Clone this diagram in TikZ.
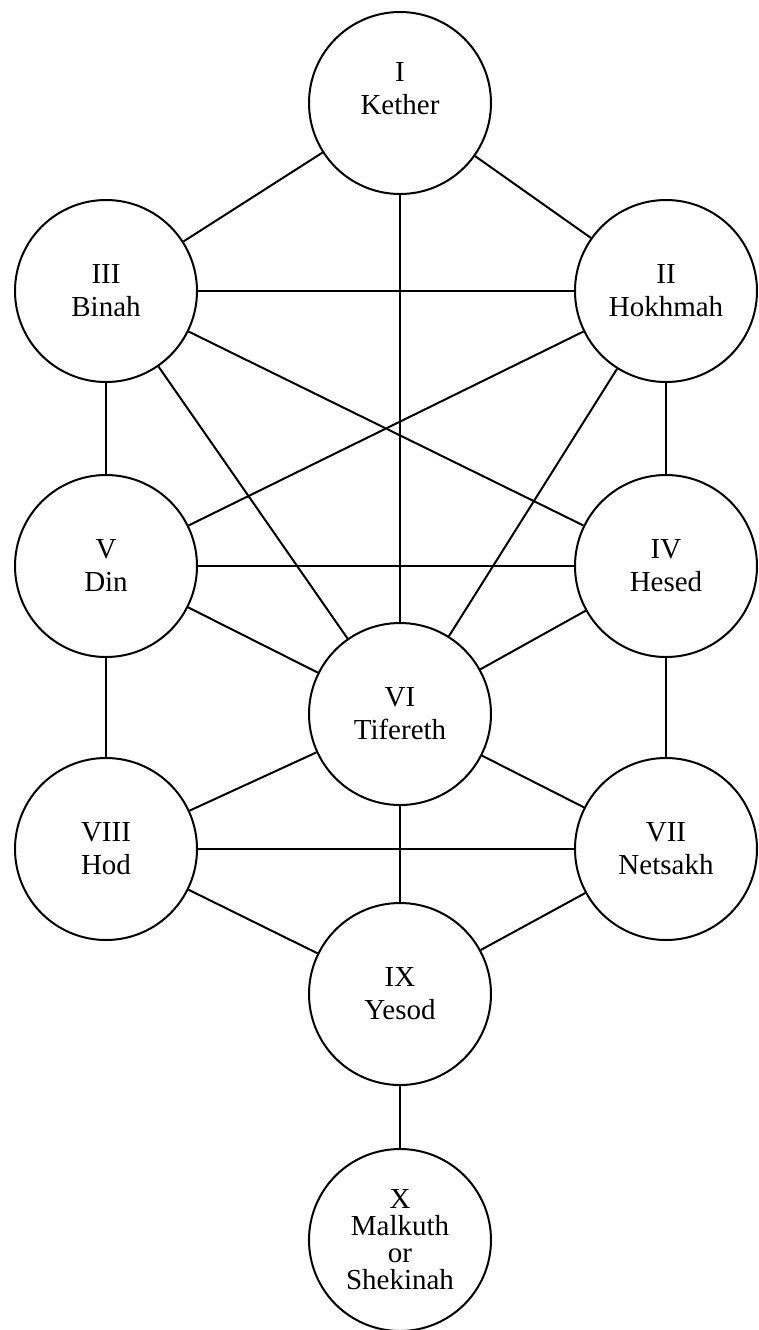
\documentclass[tikz,border=0pt]{standalone}
\usepackage{fontspec}
\setmainfont{Liberation Serif}
\begin{document}
\begin{tikzpicture}[x=0.5pt,y=-0.5pt,
  sefira/.style={circle,draw,line width=1pt,minimum size=91pt,inner sep=0pt,align=center,
    font=\fontsize{14.5}{16.5}\selectfont},
  lbl/.style={align=center,inner sep=0pt,font=\fontsize{14.5}{16.5}\selectfont},
  conn/.style={line width=1pt}]
\useasboundingbox (0,0) rectangle (759,1330);
\node[sefira] (kether)   at (400,103) {};
\node[lbl]    (ketherlbl) at (400,89) {I\\Kether};
\node[sefira] (binah)    at (106,291) {III\\Binah};
\node[sefira] (hokhmah)  at (666,291) {II\\Hokhmah};
\node[sefira] (din)      at (106,566) {V\\Din};
\node[sefira] (hesed)    at (666,566) {IV\\Hesed};
\node[sefira] (tifereth) at (400,714) {VI\\Tifereth};
\node[sefira] (hod)      at (106,849) {VIII\\Hod};
\node[sefira] (netsakh)  at (666,849) {VII\\Netsakh};
\node[sefira] (yesod)    at (400,994) {IX\\Yesod};
\node[sefira,font=\fontsize{14.5}{13.5}\selectfont] (malkuth) at (400,1240) {X\\Malkuth\\or\\Shekinah};
\draw[conn] (kether) -- (binah);
\draw[conn] (kether) -- (hokhmah);
\draw[conn] (kether) -- (tifereth);
\draw[conn] (binah) -- (hokhmah);
\draw[conn] (binah) -- (din);
\draw[conn] (binah) -- (tifereth);
\draw[conn] (binah) -- (hesed);
\draw[conn] (hokhmah) -- (hesed);
\draw[conn] (hokhmah) -- (tifereth);
\draw[conn] (hokhmah) -- (din);
\draw[conn] (din) -- (hesed);
\draw[conn] (din) -- (tifereth);
\draw[conn] (din) -- (hod);
\draw[conn] (hesed) -- (tifereth);
\draw[conn] (hesed) -- (netsakh);
\draw[conn] (tifereth) -- (hod);
\draw[conn] (tifereth) -- (netsakh);
\draw[conn] (tifereth) -- (yesod);
\draw[conn] (hod) -- (netsakh);
\draw[conn] (hod) -- (yesod);
\draw[conn] (netsakh) -- (yesod);
\draw[conn] (yesod) -- (malkuth);
\end{tikzpicture}
\end{document}
